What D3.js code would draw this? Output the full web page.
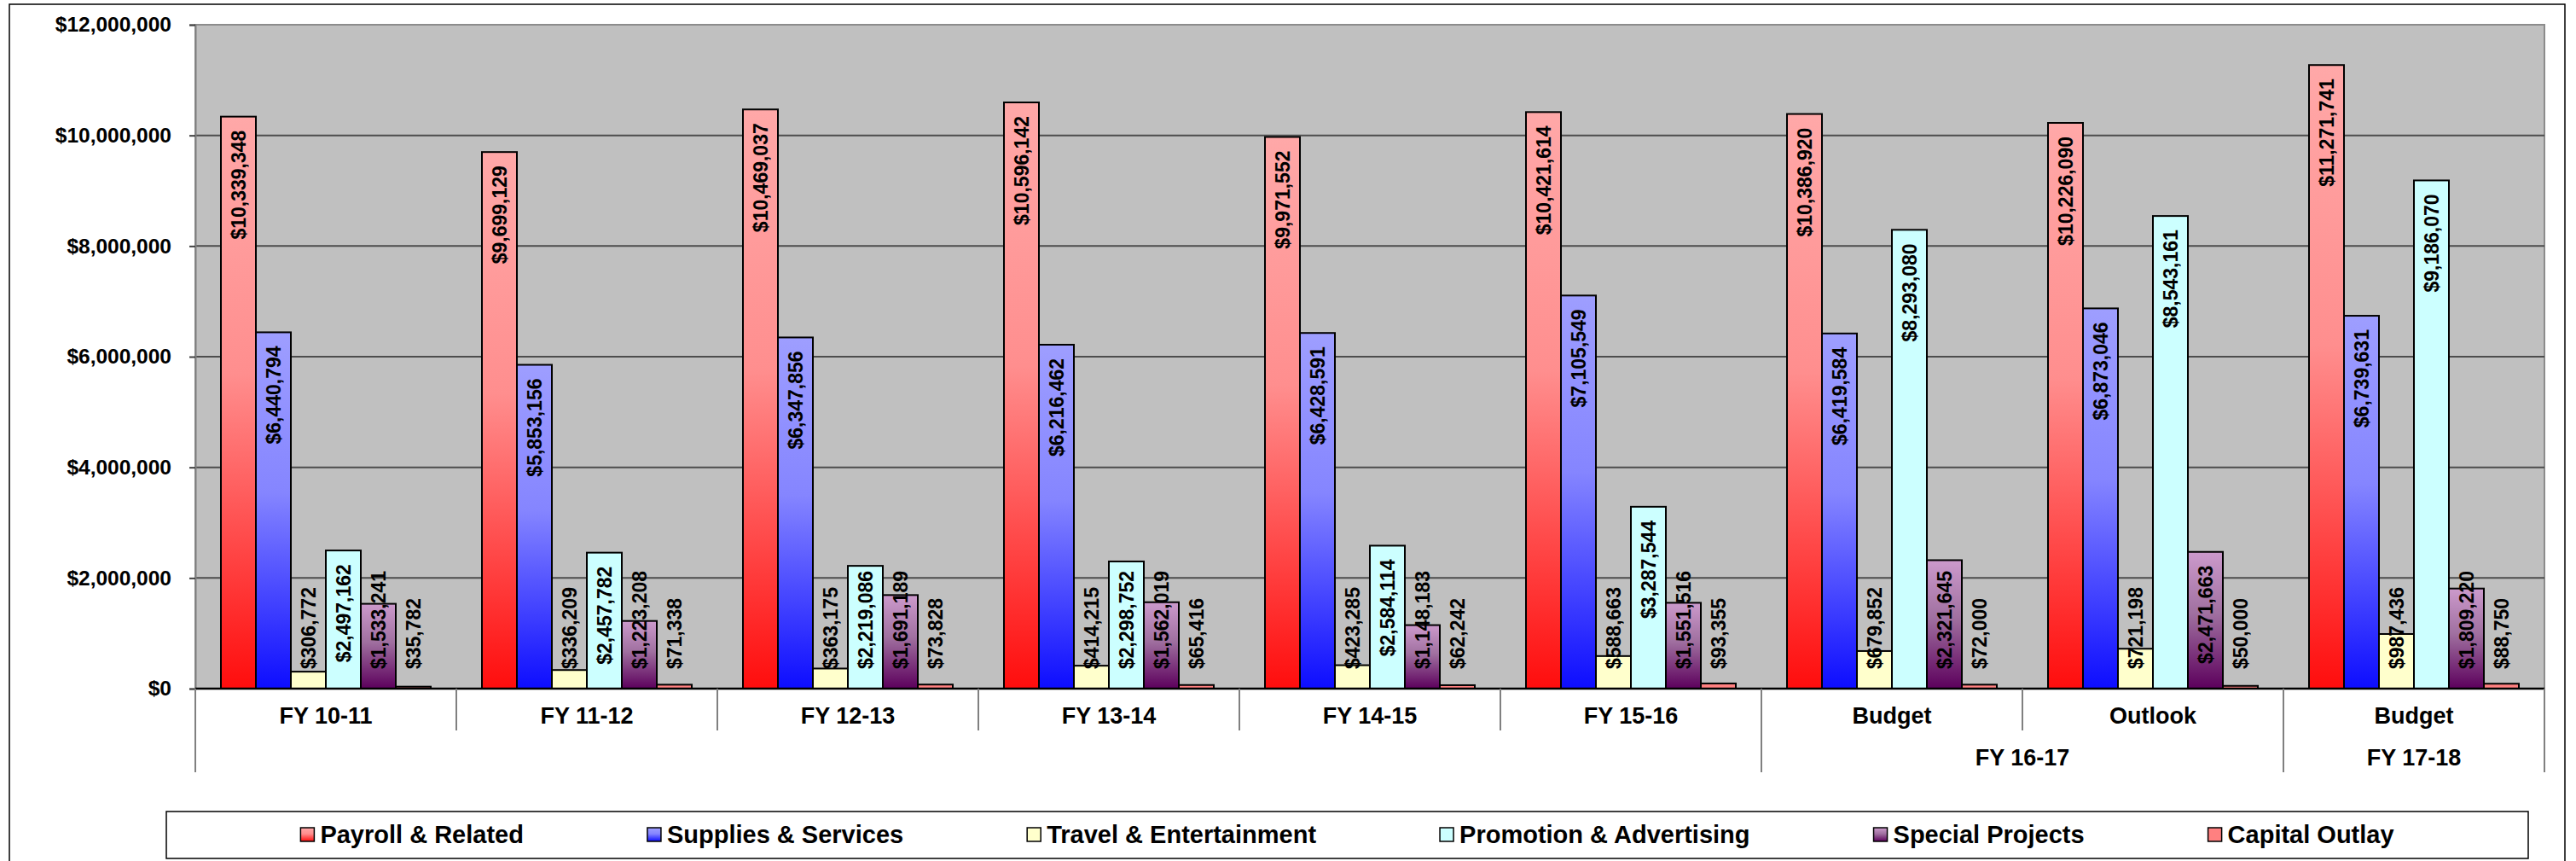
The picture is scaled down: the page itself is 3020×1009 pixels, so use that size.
<!DOCTYPE html>
<html>
<head>
<meta charset="utf-8">
<script src="https://cdn.jsdelivr.net/npm/d3@7"></script>
<style>
  html, body { margin: 0; padding: 0; background: #fff; }
  svg { display: block; }
  text { font-family: "Liberation Sans", Arial, Helvetica, sans-serif; font-weight: bold; fill: #000; }
</style>
</head>
<body>
<svg id="chart" width="3020" height="1009"></svg>
<script>
// ---------------- DATA ----------------
const categories = ["FY 10-11", "FY 11-12", "FY 12-13", "FY 13-14", "FY 14-15", "FY 15-16", "Budget", "Outlook", "Budget"];
const outerGroups = [
  { label: "FY 16-17", from: 6, to: 7 },
  { label: "FY 17-18", from: 8, to: 8 }
];
const seriesNames = ["Payroll & Related", "Supplies & Services", "Travel & Entertainment", "Promotion & Advertising", "Special Projects", "Capital Outlay"];
const payroll   = [10339348, 9699129, 10469037, 10596142, 9971552, 10421614, 10386920, 10226090, 11271741];
const supplies  = [6440794, 5853156, 6347856, 6216462, 6428591, 7105549, 6419584, 6873046, 6739631];
const travel    = [306772, 336209, 363175, 414215, 423285, 588663, 679852, 721198, 987436];
const promotion = [2497162, 2457782, 2219086, 2298752, 2584114, 3287544, 8293080, 8543161, 9186070];
const special   = [1533241, 1223208, 1691189, 1562019, 1148183, 1551516, 2321645, 2471663, 1809220];
const capital   = [35782, 71338, 73828, 65416, 62242, 93355, 72000, 50000, 88750];
const yTicks    = [0, 2000000, 4000000, 6000000, 8000000, 10000000, 12000000];

const seriesValues = [payroll, supplies, travel, promotion, special, capital];

// ---------------- STYLE ----------------
const fills = [
  { id: "g0", stops: [["0%", "#FFA8A8"], ["45%", "#FF8E8E"], ["100%", "#FF0D0D"]] },
  { id: "g1", stops: [["0%", "#9E9EFF"], ["45%", "#8585FF"], ["100%", "#0D0DFF"]] },
  { flat: "#FFFFCC" },
  { flat: "#CCFFFF" },
  { id: "g4", stops: [["0%", "#CC9ACC"], ["45%", "#A070A0"], ["100%", "#5C005C"]] },
  { flat: "#FF8080" }
];
const fillOf = i => fills[i].flat ? fills[i].flat : `url(#${fills[i].id})`;

const W = 3020, H = 1009;
const plot = { left: 229, right: 2983, top: 29, bottom: 807 };

const svg = d3.select("#chart");
const defs = svg.append("defs");
fills.forEach(f => {
  if (!f.id) return;
  const g = defs.append("linearGradient").attr("id", f.id)
    .attr("x1", 0).attr("y1", 0).attr("x2", 0).attr("y2", 1);
  f.stops.forEach(s => g.append("stop").attr("offset", s[0]).attr("stop-color", s[1]));
});

// outer chart border
svg.append("rect").attr("x", 11).attr("y", 5).attr("width", 2996).attr("height", 1020)
  .attr("fill", "#fff").attr("stroke", "#000").attr("stroke-width", 1.5);

// scales
const x0 = d3.scaleBand().domain(d3.range(categories.length)).range([plot.left, plot.right]).padding(0);
const gap = x0.bandwidth() * 60 / 306;
const x1 = d3.scaleBand().domain(d3.range(seriesNames.length)).range([gap / 2, x0.bandwidth() - gap / 2]).padding(0);
const y = d3.scaleLinear().domain([0, 12000000]).range([plot.bottom, plot.top]);

// plot area
svg.append("rect").attr("x", plot.left).attr("y", plot.top)
  .attr("width", plot.right - plot.left).attr("height", plot.bottom - plot.top)
  .attr("fill", "#C0C0C0").attr("stroke", "#8C8C8C").attr("stroke-width", 2);

// gridlines
svg.append("g").selectAll("line").data(yTicks.filter(t => t > 0 && t < 12000000)).join("line")
  .attr("x1", plot.left).attr("x2", plot.right)
  .attr("y1", d => y(d)).attr("y2", d => y(d))
  .attr("stroke", "#4d4d4d").attr("stroke-width", 2);

// y axis
const yAxis = svg.append("g").attr("transform", `translate(${plot.left},0)`)
  .call(d3.axisLeft(y).tickValues(yTicks).tickSize(7).tickPadding(21)
    .tickFormat(d => "$" + d3.format(",")(d)));
yAxis.select(".domain").attr("stroke", "#808080").attr("stroke-width", 2);
yAxis.selectAll(".tick line").attr("stroke", "#404040").attr("stroke-width", 2);
yAxis.selectAll(".tick text").attr("font-size", 24.5).attr("font-family", null).attr("fill", "#000");

// bars
const barG = svg.append("g");
seriesValues.forEach((vals, s) => {
  barG.append("g").selectAll("rect").data(vals).join("rect")
    .attr("x", (d, i) => x0(i) + x1(s))
    .attr("y", d => y(d))
    .attr("width", x1.bandwidth())
    .attr("height", d => y(0) - y(d))
    .attr("fill", fillOf(s))
    .attr("stroke", "#000").attr("stroke-width", 2);
});

// x axis line
svg.append("line").attr("x1", plot.left).attr("x2", plot.right)
  .attr("y1", y(0)).attr("y2", y(0)).attr("stroke", "#000").attr("stroke-width", 2.5);

// data labels
const fmt = d => "$" + d3.format(",")(d);
const labelG = svg.append("g");
const clampY = y(0) - 23;
seriesValues.forEach((vals, s) => {
  vals.forEach((v, i) => {
    const cx = x0(i) + x1(s) + x1.bandwidth() / 2;
    const t = labelG.append("text").attr("font-size", 23).attr("dy", "0.36em").text(fmt(v));
    const len = t.node().getComputedTextLength();
    const top = y(v) + 16;
    if (top + len <= clampY) {
      t.attr("text-anchor", "end").attr("transform", `translate(${cx},${top}) rotate(-90)`);
    } else {
      t.attr("text-anchor", "start").attr("transform", `translate(${cx},${clampY}) rotate(-90)`);
    }
  });
});

// category labels (row 1)
const catG = svg.append("g");
catG.selectAll("text").data(categories).join("text")
  .attr("x", (d, i) => x0(i) + x0.bandwidth() / 2)
  .attr("y", 848)
  .attr("text-anchor", "middle").attr("font-size", 27)
  .text(d => d);

// outer group labels (row 2)
catG.selectAll("text.outer").data(outerGroups).join("text").attr("class", "outer")
  .attr("x", d => (x0(d.from) + x0(d.to) + x0.bandwidth()) / 2)
  .attr("y", 897)
  .attr("text-anchor", "middle").attr("font-size", 27)
  .text(d => d.label);

// category dividers
const tallIdx = new Set([0, outerGroups[0].from, outerGroups[1].from, categories.length]);
const divG = svg.append("g");
d3.range(categories.length + 1).forEach(k => {
  const xx = k < categories.length ? x0(k) : plot.right;
  divG.append("line").attr("x1", xx).attr("x2", xx)
    .attr("y1", y(0)).attr("y2", tallIdx.has(k) ? 905 : 856)
    .attr("stroke", "#808080").attr("stroke-width", 2);
});

// legend
const legBox = { x: 195, y: 951, w: 2769, h: 55 };
svg.append("rect").attr("x", legBox.x).attr("y", legBox.y).attr("width", legBox.w).attr("height", legBox.h)
  .attr("fill", "#fff").attr("stroke", "#000").attr("stroke-width", 1.5);
const legG = svg.append("g");
const markerSize = 16, markerGap = 7, itemGap = 145;
const items = seriesNames.map((name, s) => {
  const t = legG.append("text").attr("font-size", 29).attr("y", 988).text(name);
  return { t, s, w: t.node().getComputedTextLength() };
});
const totalW = d3.sum(items, d => markerSize + markerGap + d.w) + itemGap * (items.length - 1);
let cursor = legBox.x + legBox.w / 2 - totalW / 2;
items.forEach(it => {
  legG.append("rect").attr("x", cursor).attr("y", 970).attr("width", markerSize).attr("height", markerSize)
    .attr("fill", fillOf(it.s)).attr("stroke", "#000").attr("stroke-width", 1.5);
  it.t.attr("x", cursor + markerSize + markerGap);
  cursor += markerSize + markerGap + it.w + itemGap;
});
</script>
</body>
</html>
